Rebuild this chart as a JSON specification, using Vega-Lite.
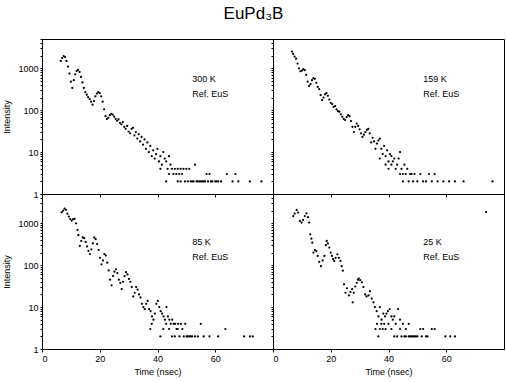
{
"$schema": "https://vega.github.io/schema/vega-lite/v6.json",
"padding": {"left": 2, "top": 4, "right": 0, "bottom": 0},
"title": {"text": "EuPd₃B", "fontSize": 17, "font": "Liberation Sans", "fontWeight": "normal", "anchor": "middle", "offset": 12, "color": "black"},
"spacing": 0,
"bounds": "flush",
"columns": 2,
"config": {
  "view": {"stroke": "black", "strokeWidth": 1},
  "axis": {"grid": false, "domainColor": "black", "tickColor": "black", "tickSize": 3, "labelFont": "Liberation Sans", "titleFont": "Liberation Sans", "labelColor": "black", "titleColor": "black", "labelFontSize": 9, "titleFontSize": 9, "titleFontWeight": "normal", "labelOverlap": false}
},
"datasets": {"d": [
{"p":"A","t":6.5,"y":1500},{"p":"A","t":7,"y":1750},{"p":"A","t":7.5,"y":1950},{"p":"A","t":8,"y":1850},{"p":"A","t":8.5,"y":1500},{"p":"A","t":9,"y":1100},{"p":"A","t":9.5,"y":750},{"p":"A","t":10,"y":480},{"p":"A","t":10.5,"y":340},{"p":"A","t":11,"y":520},{"p":"A","t":11.5,"y":720},{"p":"A","t":12,"y":860},{"p":"A","t":12.5,"y":920},{"p":"A","t":13,"y":820},{"p":"A","t":13.5,"y":620},{"p":"A","t":14,"y":460},{"p":"A","t":14.5,"y":340},{"p":"A","t":15,"y":270},{"p":"A","t":15.5,"y":235},{"p":"A","t":16,"y":205},{"p":"A","t":16.5,"y":185},{"p":"A","t":17,"y":160},{"p":"A","t":17.5,"y":135},{"p":"A","t":18,"y":165},{"p":"A","t":18.5,"y":215},{"p":"A","t":19,"y":250},{"p":"A","t":19.5,"y":270},{"p":"A","t":20,"y":255},{"p":"A","t":20.5,"y":215},{"p":"A","t":21,"y":160},{"p":"A","t":21.5,"y":105},{"p":"A","t":22,"y":72},{"p":"A","t":22.5,"y":62},{"p":"A","t":23,"y":66},{"p":"A","t":23.5,"y":76},{"p":"A","t":24,"y":82},{"p":"A","t":24.5,"y":78},{"p":"A","t":25,"y":70},{"p":"A","t":25.5,"y":62},{"p":"A","t":26,"y":56},{"p":"A","t":26.5,"y":60},{"p":"A","t":27,"y":50},{"p":"A","t":27.5,"y":46},{"p":"A","t":28,"y":52},{"p":"A","t":28.5,"y":40},{"p":"A","t":29,"y":36},{"p":"A","t":29.5,"y":42},{"p":"A","t":30,"y":31},{"p":"A","t":30.5,"y":28},{"p":"A","t":31,"y":36},{"p":"A","t":31.5,"y":38},{"p":"A","t":32,"y":25},{"p":"A","t":32.5,"y":30},{"p":"A","t":33,"y":21},{"p":"A","t":33.5,"y":27},{"p":"A","t":34,"y":18},{"p":"A","t":34.5,"y":23},{"p":"A","t":35,"y":15},{"p":"A","t":35.5,"y":20},{"p":"A","t":36,"y":12},{"p":"A","t":36.5,"y":17},{"p":"A","t":37,"y":10},{"p":"A","t":37.5,"y":14},{"p":"A","t":38,"y":8},{"p":"A","t":38.5,"y":11},{"p":"A","t":39,"y":7},{"p":"A","t":39.5,"y":9},{"p":"A","t":40,"y":12},{"p":"A","t":40.5,"y":6},{"p":"A","t":41,"y":8},{"p":"A","t":41.5,"y":5},{"p":"A","t":42,"y":10},{"p":"A","t":42.5,"y":7},{"p":"A","t":43,"y":6},{"p":"A","t":43.5,"y":4},{"p":"A","t":44,"y":8},{"p":"A","t":44.5,"y":5},{"p":"A","t":45,"y":4},{"p":"A","t":45.5,"y":3},{"p":"A","t":46,"y":4},{"p":"A","t":46.5,"y":3},{"p":"A","t":47,"y":4},{"p":"A","t":47.5,"y":3},{"p":"A","t":48,"y":4},{"p":"A","t":48.5,"y":3},{"p":"A","t":49,"y":4},{"p":"A","t":49.5,"y":2},{"p":"A","t":50,"y":4},{"p":"A","t":50.5,"y":2},{"p":"A","t":51,"y":4},{"p":"A","t":51.5,"y":2},{"p":"A","t":52,"y":2},{"p":"A","t":53,"y":5},{"p":"A","t":53.5,"y":2},{"p":"A","t":54,"y":2},{"p":"A","t":55,"y":2},{"p":"A","t":56,"y":2},{"p":"A","t":57,"y":3},{"p":"A","t":57.5,"y":2},{"p":"A","t":58,"y":3},{"p":"A","t":59,"y":2},{"p":"A","t":60,"y":2},{"p":"A","t":61,"y":2},{"p":"A","t":62,"y":2},{"p":"A","t":64,"y":3},{"p":"A","t":66,"y":2},{"p":"A","t":67,"y":3},{"p":"A","t":68,"y":2},{"p":"A","t":72,"y":2},{"p":"A","t":76,"y":2},{"p":"A","t":41,"y":4},{"p":"A","t":43,"y":2},{"p":"A","t":44,"y":3},{"p":"A","t":47,"y":2},{"p":"A","t":48,"y":2},{"p":"A","t":52.5,"y":2},{"p":"A","t":54.5,"y":2},{"p":"A","t":55.5,"y":2},{"p":"A","t":56.5,"y":2},{"p":"A","t":58.5,"y":2},{"p":"A","t":60.5,"y":2},
{"p":"B","t":6.6,"y":2500},{"p":"B","t":7,"y":2200},{"p":"B","t":7.5,"y":1900},{"p":"B","t":8,"y":1700},{"p":"B","t":8.5,"y":1300},{"p":"B","t":9,"y":1000},{"p":"B","t":9.5,"y":850},{"p":"B","t":10,"y":880},{"p":"B","t":10.5,"y":950},{"p":"B","t":11,"y":900},{"p":"B","t":11.5,"y":700},{"p":"B","t":12,"y":480},{"p":"B","t":12.5,"y":380},{"p":"B","t":13,"y":420},{"p":"B","t":13.5,"y":520},{"p":"B","t":14,"y":580},{"p":"B","t":14.5,"y":560},{"p":"B","t":15,"y":450},{"p":"B","t":15.5,"y":360},{"p":"B","t":16,"y":320},{"p":"B","t":16.5,"y":230},{"p":"B","t":17,"y":175},{"p":"B","t":17.5,"y":200},{"p":"B","t":18,"y":240},{"p":"B","t":18.5,"y":255},{"p":"B","t":19,"y":220},{"p":"B","t":19.5,"y":180},{"p":"B","t":20,"y":150},{"p":"B","t":20.5,"y":140},{"p":"B","t":21,"y":120},{"p":"B","t":21.5,"y":125},{"p":"B","t":22,"y":105},{"p":"B","t":22.5,"y":95},{"p":"B","t":23,"y":92},{"p":"B","t":23.5,"y":80},{"p":"B","t":24,"y":70},{"p":"B","t":24.5,"y":62},{"p":"B","t":25,"y":58},{"p":"B","t":25.5,"y":68},{"p":"B","t":26,"y":76},{"p":"B","t":26.5,"y":72},{"p":"B","t":27,"y":55},{"p":"B","t":27.5,"y":40},{"p":"B","t":28,"y":30},{"p":"B","t":28.5,"y":40},{"p":"B","t":29,"y":48},{"p":"B","t":29.5,"y":42},{"p":"B","t":30,"y":35},{"p":"B","t":30.5,"y":28},{"p":"B","t":31,"y":23},{"p":"B","t":31.5,"y":26},{"p":"B","t":32,"y":30},{"p":"B","t":32.5,"y":34},{"p":"B","t":33,"y":36},{"p":"B","t":33.5,"y":28},{"p":"B","t":34,"y":17},{"p":"B","t":34.5,"y":22},{"p":"B","t":35,"y":18},{"p":"B","t":35.5,"y":12},{"p":"B","t":36,"y":16},{"p":"B","t":36.5,"y":19},{"p":"B","t":37,"y":21},{"p":"B","t":37.5,"y":12},{"p":"B","t":38,"y":9},{"p":"B","t":38.5,"y":14},{"p":"B","t":39,"y":8},{"p":"B","t":39.5,"y":11},{"p":"B","t":40,"y":6},{"p":"B","t":40.5,"y":9},{"p":"B","t":41,"y":5},{"p":"B","t":41.5,"y":6},{"p":"B","t":42,"y":7},{"p":"B","t":42.5,"y":4},{"p":"B","t":43,"y":5},{"p":"B","t":43.5,"y":7},{"p":"B","t":44,"y":10},{"p":"B","t":44.5,"y":4},{"p":"B","t":45,"y":3},{"p":"B","t":45.5,"y":5},{"p":"B","t":46,"y":3},{"p":"B","t":46.5,"y":4},{"p":"B","t":47,"y":2},{"p":"B","t":47.5,"y":3},{"p":"B","t":48,"y":3},{"p":"B","t":48.5,"y":2},{"p":"B","t":49,"y":3},{"p":"B","t":50,"y":2},{"p":"B","t":51,"y":3},{"p":"B","t":52,"y":2},{"p":"B","t":53,"y":2},{"p":"B","t":54,"y":3},{"p":"B","t":55,"y":2},{"p":"B","t":56,"y":3},{"p":"B","t":57,"y":2},{"p":"B","t":59,"y":2},{"p":"B","t":61,"y":2},{"p":"B","t":63,"y":2},{"p":"B","t":66,"y":2},{"p":"B","t":76,"y":2},{"p":"B","t":40,"y":4},{"p":"B","t":41,"y":8},{"p":"B","t":39,"y":5},{"p":"B","t":37,"y":7},{"p":"B","t":44,"y":3},{"p":"B","t":45,"y":2},
{"p":"C","t":6.8,"y":1830},{"p":"C","t":7.3,"y":2000},{"p":"C","t":7.8,"y":2250},{"p":"C","t":8.3,"y":2100},{"p":"C","t":8.8,"y":1700},{"p":"C","t":9.3,"y":1450},{"p":"C","t":9.8,"y":1250},{"p":"C","t":10.3,"y":1150},{"p":"C","t":10.8,"y":1250},{"p":"C","t":11.3,"y":1280},{"p":"C","t":11.8,"y":1000},{"p":"C","t":12.3,"y":700},{"p":"C","t":12.6,"y":520},{"p":"C","t":13.1,"y":290},{"p":"C","t":13.6,"y":380},{"p":"C","t":14.1,"y":460},{"p":"C","t":14.6,"y":440},{"p":"C","t":15.1,"y":360},{"p":"C","t":15.6,"y":280},{"p":"C","t":16.1,"y":220},{"p":"C","t":16.6,"y":185},{"p":"C","t":17.1,"y":240},{"p":"C","t":17.6,"y":330},{"p":"C","t":18.1,"y":460},{"p":"C","t":18.6,"y":420},{"p":"C","t":19.1,"y":320},{"p":"C","t":19.6,"y":230},{"p":"C","t":20.1,"y":150},{"p":"C","t":20.6,"y":105},{"p":"C","t":21.1,"y":130},{"p":"C","t":21.6,"y":185},{"p":"C","t":22.1,"y":170},{"p":"C","t":22.6,"y":115},{"p":"C","t":23.1,"y":75},{"p":"C","t":23.6,"y":45},{"p":"C","t":24.1,"y":33},{"p":"C","t":24.6,"y":55},{"p":"C","t":25.1,"y":70},{"p":"C","t":25.6,"y":80},{"p":"C","t":26.1,"y":65},{"p":"C","t":26.6,"y":45},{"p":"C","t":27.1,"y":38},{"p":"C","t":27.6,"y":27},{"p":"C","t":28.1,"y":40},{"p":"C","t":28.6,"y":55},{"p":"C","t":29.1,"y":68},{"p":"C","t":29.6,"y":60},{"p":"C","t":30.1,"y":47},{"p":"C","t":30.6,"y":40},{"p":"C","t":31.1,"y":30},{"p":"C","t":31.6,"y":18},{"p":"C","t":32.1,"y":22},{"p":"C","t":32.6,"y":30},{"p":"C","t":33.1,"y":26},{"p":"C","t":33.6,"y":20},{"p":"C","t":34.1,"y":17},{"p":"C","t":34.6,"y":12},{"p":"C","t":35.1,"y":10},{"p":"C","t":35.6,"y":9},{"p":"C","t":36.1,"y":12},{"p":"C","t":36.6,"y":14},{"p":"C","t":37.1,"y":9},{"p":"C","t":37.6,"y":8},{"p":"C","t":38.1,"y":6},{"p":"C","t":38.6,"y":5},{"p":"C","t":39.1,"y":7},{"p":"C","t":39.6,"y":12},{"p":"C","t":40.1,"y":14},{"p":"C","t":40.6,"y":10},{"p":"C","t":41.1,"y":8},{"p":"C","t":41.6,"y":7},{"p":"C","t":42.1,"y":6},{"p":"C","t":42.6,"y":5},{"p":"C","t":43.1,"y":10},{"p":"C","t":43.6,"y":6},{"p":"C","t":44.1,"y":5},{"p":"C","t":44.6,"y":4},{"p":"C","t":45.1,"y":5},{"p":"C","t":45.6,"y":4},{"p":"C","t":46.1,"y":4},{"p":"C","t":46.6,"y":3},{"p":"C","t":47.1,"y":4},{"p":"C","t":47.6,"y":2},{"p":"C","t":48.1,"y":4},{"p":"C","t":48.6,"y":3},{"p":"C","t":49.1,"y":2},{"p":"C","t":49.6,"y":4},{"p":"C","t":50.1,"y":2},{"p":"C","t":51,"y":2},{"p":"C","t":52,"y":2},{"p":"C","t":53,"y":2},{"p":"C","t":54,"y":2},{"p":"C","t":55,"y":4},{"p":"C","t":56,"y":2},{"p":"C","t":58,"y":2},{"p":"C","t":61,"y":2},{"p":"C","t":63.5,"y":3},{"p":"C","t":70,"y":2},{"p":"C","t":72,"y":2},{"p":"C","t":73,"y":2},{"p":"C","t":37.5,"y":3},{"p":"C","t":38,"y":4},{"p":"C","t":41,"y":2},{"p":"C","t":42,"y":3},{"p":"C","t":43,"y":4},{"p":"C","t":44,"y":3},{"p":"C","t":46,"y":2},{"p":"C","t":47,"y":3},{"p":"C","t":45,"y":2},{"p":"C","t":50.5,"y":2},{"p":"C","t":51.5,"y":2},
{"p":"D","t":7,"y":1490},{"p":"D","t":7.5,"y":1700},{"p":"D","t":8.2,"y":2080},{"p":"D","t":8.7,"y":1800},{"p":"D","t":9.3,"y":1140},{"p":"D","t":9.9,"y":1040},{"p":"D","t":10.4,"y":1200},{"p":"D","t":11,"y":1490},{"p":"D","t":11.6,"y":1730},{"p":"D","t":12.1,"y":1400},{"p":"D","t":12.5,"y":1040},{"p":"D","t":12.9,"y":545},{"p":"D","t":13.3,"y":430},{"p":"D","t":13.6,"y":345},{"p":"D","t":14,"y":200},{"p":"D","t":14.5,"y":230},{"p":"D","t":15,"y":218},{"p":"D","t":15.5,"y":166},{"p":"D","t":16,"y":120},{"p":"D","t":16.6,"y":95},{"p":"D","t":17.2,"y":130},{"p":"D","t":17.8,"y":166},{"p":"D","t":18.3,"y":300},{"p":"D","t":18.6,"y":380},{"p":"D","t":19,"y":330},{"p":"D","t":19.5,"y":263},{"p":"D","t":20,"y":200},{"p":"D","t":20.4,"y":166},{"p":"D","t":20.8,"y":140},{"p":"D","t":21.2,"y":126},{"p":"D","t":21.7,"y":150},{"p":"D","t":22.3,"y":182},{"p":"D","t":22.8,"y":150},{"p":"D","t":23.4,"y":126},{"p":"D","t":23.8,"y":95},{"p":"D","t":24.2,"y":74},{"p":"D","t":24.6,"y":35},{"p":"D","t":25.1,"y":22},{"p":"D","t":25.6,"y":28},{"p":"D","t":26.3,"y":19},{"p":"D","t":26.8,"y":23},{"p":"D","t":27.4,"y":27},{"p":"D","t":27.6,"y":13},{"p":"D","t":28,"y":22},{"p":"D","t":28.5,"y":31},{"p":"D","t":29,"y":38},{"p":"D","t":29.4,"y":45},{"p":"D","t":29.7,"y":48},{"p":"D","t":30.2,"y":44},{"p":"D","t":30.8,"y":39},{"p":"D","t":31.3,"y":30},{"p":"D","t":31.9,"y":20},{"p":"D","t":32.4,"y":18},{"p":"D","t":33.1,"y":19},{"p":"D","t":33.6,"y":24},{"p":"D","t":34.2,"y":16},{"p":"D","t":34.8,"y":13},{"p":"D","t":35.3,"y":10},{"p":"D","t":35.9,"y":8},{"p":"D","t":36.5,"y":6},{"p":"D","t":37,"y":10},{"p":"D","t":37.6,"y":5},{"p":"D","t":38.2,"y":7},{"p":"D","t":38.8,"y":6},{"p":"D","t":39.3,"y":7},{"p":"D","t":39.8,"y":8},{"p":"D","t":40.4,"y":9},{"p":"D","t":41,"y":6},{"p":"D","t":41.5,"y":5},{"p":"D","t":42,"y":6},{"p":"D","t":42.5,"y":4},{"p":"D","t":43.3,"y":9},{"p":"D","t":44,"y":5},{"p":"D","t":45,"y":4},{"p":"D","t":46,"y":3},{"p":"D","t":47,"y":4},{"p":"D","t":35.5,"y":3},{"p":"D","t":36,"y":4},{"p":"D","t":36.5,"y":2},{"p":"D","t":37,"y":3},{"p":"D","t":37.5,"y":4},{"p":"D","t":38,"y":3},{"p":"D","t":38.5,"y":4},{"p":"D","t":39,"y":3},{"p":"D","t":40,"y":4},{"p":"D","t":41,"y":3},{"p":"D","t":42,"y":2},{"p":"D","t":43,"y":2},{"p":"D","t":44,"y":3},{"p":"D","t":44.5,"y":2},{"p":"D","t":45.5,"y":2},{"p":"D","t":46,"y":2},{"p":"D","t":47,"y":2},{"p":"D","t":47.5,"y":2},{"p":"D","t":48,"y":2},{"p":"D","t":48.5,"y":2},{"p":"D","t":49,"y":2},{"p":"D","t":49.5,"y":2},{"p":"D","t":50,"y":2},{"p":"D","t":51,"y":3},{"p":"D","t":51.5,"y":2},{"p":"D","t":52,"y":3},{"p":"D","t":53,"y":2},{"p":"D","t":53.5,"y":2},{"p":"D","t":55,"y":3},{"p":"D","t":56,"y":3},{"p":"D","t":59.7,"y":2},{"p":"D","t":61.4,"y":2},{"p":"D","t":63,"y":2},{"p":"D","t":73.8,"y":1860}
]},
"data": {"name": "d"},
"concat": [
  {"width": 231, "height": 155, "layer": [
   {"transform": [{"filter": "datum.p=='A'"}], "mark": {"type": "point", "filled": true, "size": 5, "color": "black", "opacity": 1},
    "encoding": {
     "x": {"field": "t", "type": "quantitative", "scale": {"domain": [0, 80], "nice": false}, "axis": {"values": [0, 20, 40, 60], "labels": false, "title": null}},
     "y": {"field": "y", "type": "quantitative", "scale": {"type": "log", "domain": [1, 5000], "nice": false}, "axis": {"title": "Intensity", "titlePadding": 6, "values": [1,2,3,4,5,6,7,8,9,10,20,30,40,50,60,70,80,90,100,200,300,400,500,600,700,800,900,1000,2000,3000,4000,5000], "labelExpr": "datum.value==1||datum.value==10||datum.value==100||datum.value==1000 ? format(datum.value,'d') : ''", "tickSize": 2}}}},
   {"data": {"values": [{}]}, "mark": {"type": "text", "align": "left", "baseline": "top", "fontSize": 9, "font": "Liberation Sans", "lineHeight": 15, "color": "black", "text": ["300 K", "Ref. EuS"]},
    "encoding": {"x": {"datum": 52, "type": "quantitative"}, "y": {"datum": 700, "type": "quantitative"}}}
  ]},
  {"width": 231, "height": 155, "layer": [
   {"transform": [{"filter": "datum.p=='B'"}], "mark": {"type": "point", "filled": true, "size": 5, "color": "black", "opacity": 1},
    "encoding": {
     "x": {"field": "t", "type": "quantitative", "scale": {"domain": [0, 80], "nice": false}, "axis": {"values": [0, 20, 40, 60], "labels": false, "title": null}},
     "y": {"field": "y", "type": "quantitative", "scale": {"type": "log", "domain": [1, 5000], "nice": false}, "axis": {"title": null, "labels": false, "values": [1,2,3,4,5,6,7,8,9,10,20,30,40,50,60,70,80,90,100,200,300,400,500,600,700,800,900,1000,2000,3000,4000,5000], "tickSize": 2}}}},
   {"data": {"values": [{}]}, "mark": {"type": "text", "align": "left", "baseline": "top", "fontSize": 9, "font": "Liberation Sans", "lineHeight": 15, "color": "black", "text": ["159 K", "Ref. EuS"]},
    "encoding": {"x": {"datum": 52, "type": "quantitative"}, "y": {"datum": 700, "type": "quantitative"}}}
  ]},
  {"width": 231, "height": 155, "layer": [
   {"transform": [{"filter": "datum.p=='C'"}], "mark": {"type": "point", "filled": true, "size": 5, "color": "black", "opacity": 1},
    "encoding": {
     "x": {"field": "t", "type": "quantitative", "scale": {"domain": [0, 80], "nice": false}, "axis": {"values": [0, 20, 40, 60], "title": "Time (nsec)", "titlePadding": 4}},
     "y": {"field": "y", "type": "quantitative", "scale": {"type": "log", "domain": [1, 5000], "nice": false}, "axis": {"title": "Intensity", "titlePadding": 6, "values": [1,2,3,4,5,6,7,8,9,10,20,30,40,50,60,70,80,90,100,200,300,400,500,600,700,800,900,1000,2000,3000,4000,5000], "labelExpr": "datum.value==1||datum.value==10||datum.value==100||datum.value==1000 ? format(datum.value,'d') : ''", "tickSize": 2}}}},
   {"data": {"values": [{}]}, "mark": {"type": "text", "align": "left", "baseline": "top", "fontSize": 9, "font": "Liberation Sans", "lineHeight": 15, "color": "black", "text": ["85 K", "Ref. EuS"]},
    "encoding": {"x": {"datum": 52, "type": "quantitative"}, "y": {"datum": 450, "type": "quantitative"}}}
  ]},
  {"width": 231, "height": 155, "layer": [
   {"transform": [{"filter": "datum.p=='D'"}], "mark": {"type": "point", "filled": true, "size": 5, "color": "black", "opacity": 1},
    "encoding": {
     "x": {"field": "t", "type": "quantitative", "scale": {"domain": [0, 80], "nice": false}, "axis": {"values": [0, 20, 40, 60], "title": "Time (nsec)", "titlePadding": 4}},
     "y": {"field": "y", "type": "quantitative", "scale": {"type": "log", "domain": [1, 5000], "nice": false}, "axis": {"title": null, "labels": false, "values": [1,2,3,4,5,6,7,8,9,10,20,30,40,50,60,70,80,90,100,200,300,400,500,600,700,800,900,1000,2000,3000,4000,5000], "tickSize": 2}}}},
   {"data": {"values": [{}]}, "mark": {"type": "text", "align": "left", "baseline": "top", "fontSize": 9, "font": "Liberation Sans", "lineHeight": 15, "color": "black", "text": ["25 K", "Ref. EuS"]},
    "encoding": {"x": {"datum": 52, "type": "quantitative"}, "y": {"datum": 450, "type": "quantitative"}}}
  ]}
]
}
